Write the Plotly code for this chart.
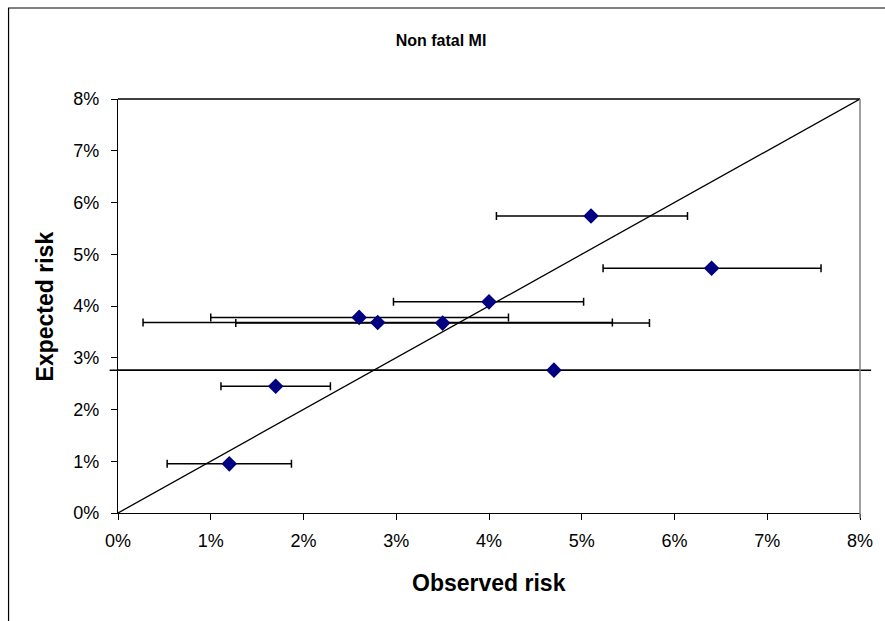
import plotly.graph_objects as go

# Data (percent)
observed = [1.2, 1.7, 2.6, 2.8, 3.5, 4.0, 4.7, 5.1, 6.4]
expected = [0.95, 2.45, 3.78, 3.68, 3.67, 4.08, 2.76, 5.74, 4.73]
err_minus = [0.67, 0.59, 1.60, 2.53, 2.23, 1.03, 4.79, 1.02, 1.17]
err_plus = [0.67, 0.59, 1.61, 2.53, 2.23, 1.02, 3.42, 1.04, 1.18]
diag_x = [0, 8]
diag_y = [0, 8]
axis_range = [0, 8]
tick_vals = [0, 1, 2, 3, 4, 5, 6, 7, 8]
tick_text = [f"{v}%" for v in tick_vals]

FONT = "Arial, Liberation Sans, sans-serif"

fig = go.Figure()

fig.add_trace(go.Scatter(
    x=diag_x, y=diag_y, mode="lines",
    line=dict(color="black", width=1.3),
    hoverinfo="skip", showlegend=False,
))

fig.add_trace(go.Scatter(
    x=observed, y=expected, mode="markers",
    marker=dict(symbol="diamond", size=12, color="#000080",
                line=dict(width=0)),
    error_x=dict(type="data", symmetric=False, array=err_plus,
                 arrayminus=err_minus, color="black", thickness=1.5,
                 width=4),
    showlegend=False,
))

# Error bars that Excel lets run past the plot area (not clipped horizontally)
span = axis_range[1] - axis_range[0]
shapes = []
for xo, ye, em, ep in zip(observed, expected, err_minus, err_plus):
    lo, hi = xo - em, xo + ep
    if lo < axis_range[0] or hi > axis_range[1]:
        shapes.append(dict(
            type="line", xref="x domain", yref="y",
            x0=(lo - axis_range[0]) / span, x1=(hi - axis_range[0]) / span,
            y0=ye, y1=ye, line=dict(color="black", width=1.5), layer="below"))

# plot-area border: top black, right grey
shapes.append(dict(type="line", xref="paper", yref="paper", x0=0, x1=1, y0=1, y1=1,
                   line=dict(color="black", width=1.3)))
shapes.append(dict(type="line", xref="paper", yref="paper", x0=1, x1=1, y0=-0.012, y1=1,
                   line=dict(color="#808080", width=1.5)))
# chart-area border (extends beyond the picture on right/bottom)
shapes.append(dict(type="rect", xref="paper", yref="paper",
                   x0=-0.1475, x1=1.3, y0=-0.5, y1=1.2198,
                   line=dict(color="black", width=1.2), fillcolor="rgba(0,0,0,0)"))

fig.update_layout(
    width=885, height=621,
    margin=dict(l=118, r=21, t=99, b=108),
    paper_bgcolor="white", plot_bgcolor="white",
    font=dict(family=FONT, color="black"),
    title=dict(text="<b>Non fatal MI</b>", x=441 / 885, xanchor="center",
               y=1 - 40 / 621, yanchor="middle",
               font=dict(family=FONT, size=16, color="black")),
    shapes=shapes,
    annotations=[
        dict(text="<b>Observed risk</b>", xref="paper", yref="paper",
             x=0.5, y=(513 - 583) / 414, xanchor="center", yanchor="middle",
             showarrow=False, font=dict(family=FONT, size=23, color="black")),
        dict(text="<b>Expected risk</b>", xref="paper", yref="paper",
             x=(45 - 118) / 746, y=0.5, xanchor="center", yanchor="middle",
             textangle=-90, showarrow=False,
             font=dict(family=FONT, size=23, color="black")),
    ],
)

fig.update_xaxes(range=axis_range, tickvals=tick_vals, ticktext=tick_text,
                 showgrid=False, zeroline=False, showline=True,
                 linecolor="black", linewidth=1.3, ticks="outside", ticklen=6,
                 tickcolor="black", tickwidth=1, ticklabelstandoff=5,
                 tickfont=dict(family=FONT, size=18, color="black"))
fig.update_yaxes(range=axis_range, tickvals=tick_vals, ticktext=tick_text,
                 showgrid=False, zeroline=False, showline=True,
                 linecolor="black", linewidth=1.3, ticks="outside", ticklen=6,
                 tickcolor="black", tickwidth=1, ticklabelstandoff=8,
                 tickfont=dict(family=FONT, size=18, color="black"))

fig.write_html("out.html")
